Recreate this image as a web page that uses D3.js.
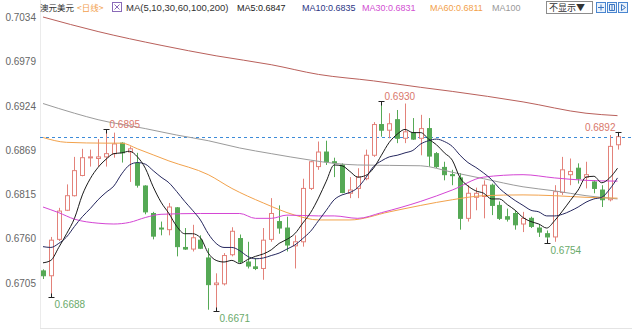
<!DOCTYPE html>
<html>
<head>
<meta charset="utf-8">
<script src="https://cdn.jsdelivr.net/npm/d3@7"></script>
<style>
  body { margin: 0; background: #fff; }
  svg { display: block; font-family: "Liberation Sans", Arial, "Noto Sans CJK SC", sans-serif; }
</style>
</head>
<body>
<svg id="chart" width="640" height="330"></svg>
<script>
// ── data (daily AUD/USD candles) ───────────────────────────────────────────
const opens = [
  0.6720, 0.6714, 0.6759, 0.6795, 0.6813, 0.6838, 0.6860, 0.6859, 0.6861, 0.6865,
  0.6878, 0.6867, 0.6853, 0.6825, 0.6791, 0.6773, 0.6771, 0.6798, 0.6749, 0.6747,
  0.6758, 0.6736, 0.6703, 0.6704, 0.6740, 0.6760, 0.6731, 0.6725, 0.6723, 0.6759,
  0.6781, 0.6773, 0.6751, 0.6756, 0.6822, 0.6849, 0.6867, 0.6855, 0.6851, 0.6816,
  0.6822, 0.6834, 0.6863, 0.6901, 0.6894, 0.6907, 0.6884, 0.6891, 0.6884, 0.6896,
  0.6865, 0.6848, 0.6839, 0.6835, 0.6785, 0.6811, 0.6812, 0.6826, 0.6801, 0.6787,
  0.6791, 0.6778, 0.6785, 0.6773, 0.6766, 0.6762, 0.6817, 0.6839, 0.6847, 0.6836,
  0.6830, 0.6820, 0.6808, 0.6876
];
const highs = [
  0.6722, 0.6762, 0.6798, 0.6827, 0.6861, 0.6871, 0.6870, 0.6883, 0.6895, 0.6891,
  0.6879, 0.6874, 0.6866, 0.6826, 0.6793, 0.6781, 0.6804, 0.6799, 0.6773, 0.6777,
  0.6764, 0.6748, 0.6717, 0.6742, 0.6774, 0.6765, 0.6756, 0.6736, 0.6773, 0.6810,
  0.6801, 0.6787, 0.6764, 0.6834, 0.6856, 0.6880, 0.6881, 0.6860, 0.6853, 0.6836,
  0.6847, 0.6870, 0.6904, 0.6930, 0.6915, 0.6919, 0.6927, 0.6909, 0.6913, 0.6909,
  0.6867, 0.6855, 0.6845, 0.6841, 0.6826, 0.6823, 0.6832, 0.6828, 0.6806, 0.6797,
  0.6795, 0.6793, 0.6787, 0.6777, 0.6770, 0.6826, 0.6861, 0.6859, 0.6853, 0.6855,
  0.6832, 0.6826, 0.6888, 0.6892
];
const lows = [
  0.6710, 0.6688, 0.6757, 0.6794, 0.6812, 0.6837, 0.6849, 0.6849, 0.6849, 0.6860,
  0.6854, 0.6830, 0.6823, 0.6790, 0.6759, 0.6764, 0.6764, 0.6738, 0.6746, 0.6744,
  0.6747, 0.6672, 0.6671, 0.6702, 0.6738, 0.6729, 0.6723, 0.6721, 0.6709, 0.6756,
  0.6766, 0.6744, 0.6723, 0.6750, 0.6820, 0.6845, 0.6851, 0.6836, 0.6816, 0.6810,
  0.6810, 0.6832, 0.6861, 0.6886, 0.6884, 0.6878, 0.6878, 0.6882, 0.6863, 0.6849,
  0.6847, 0.6832, 0.6826, 0.6771, 0.6781, 0.6795, 0.6785, 0.6789, 0.6783, 0.6781,
  0.6771, 0.6768, 0.6773, 0.6762, 0.6754, 0.6756, 0.6814, 0.6826, 0.6828, 0.6822,
  0.6816, 0.6799, 0.6806, 0.6870
];
const closes = [
  0.6714, 0.6758, 0.6794, 0.6813, 0.6844, 0.6860, 0.6861, 0.6861, 0.6865, 0.6877,
  0.6866, 0.6871, 0.6826, 0.6793, 0.6763, 0.6772, 0.6799, 0.6750, 0.6747, 0.6761,
  0.6748, 0.6703, 0.6705, 0.6739, 0.6769, 0.6731, 0.6726, 0.6723, 0.6758, 0.6791,
  0.6773, 0.6752, 0.6756, 0.6822, 0.6855, 0.6867, 0.6855, 0.6854, 0.6817, 0.6820,
  0.6836, 0.6863, 0.6901, 0.6894, 0.6902, 0.6884, 0.6892, 0.6883, 0.6896, 0.6862,
  0.6849, 0.6839, 0.6838, 0.6785, 0.6816, 0.6816, 0.6826, 0.6801, 0.6785, 0.6784,
  0.6777, 0.6785, 0.6775, 0.6768, 0.6762, 0.6818, 0.6845, 0.6843, 0.6834, 0.6839,
  0.6822, 0.6808, 0.6874, 0.6886
];

// short moving averages, one value per candle
const ma5 = [
  0.6730, 0.6733, 0.6749, 0.6766, 0.6785, 0.6814, 0.6834, 0.6848, 0.6858, 0.6865,
  0.6866, 0.6868, 0.6861, 0.6847, 0.6824, 0.6805, 0.6791, 0.6775, 0.6766, 0.6766,
  0.6761, 0.6742, 0.6733, 0.6731, 0.6733, 0.6729, 0.6734, 0.6738, 0.6741, 0.6746,
  0.6754, 0.6759, 0.6766, 0.6779, 0.6792, 0.6810, 0.6831, 0.6851, 0.6850, 0.6843,
  0.6836, 0.6838, 0.6847, 0.6863, 0.6879, 0.6889, 0.6895, 0.6891, 0.6891, 0.6883,
  0.6876, 0.6866, 0.6857, 0.6835, 0.6825, 0.6819, 0.6816, 0.6809, 0.6809, 0.6802,
  0.6795, 0.6786, 0.6781, 0.6778, 0.6773, 0.6782, 0.6794, 0.6807, 0.6820, 0.6836,
  0.6837, 0.6829, 0.6835, 0.6847
];
const ma10 = [
  0.6750, 0.6749, 0.6754, 0.6762, 0.6775, 0.6787, 0.6797, 0.6808, 0.6817, 0.6825,
  0.6840, 0.6851, 0.6854, 0.6852, 0.6844, 0.6836, 0.6829, 0.6818, 0.6806, 0.6795,
  0.6783, 0.6766, 0.6754, 0.6749, 0.6749, 0.6745, 0.6738, 0.6735, 0.6736, 0.6739,
  0.6742, 0.6747, 0.6752, 0.6760, 0.6769, 0.6782, 0.6795, 0.6808, 0.6814, 0.6817,
  0.6823, 0.6835, 0.6849, 0.6856, 0.6861, 0.6863, 0.6866, 0.6869, 0.6877, 0.6881,
  0.6883, 0.6880, 0.6874, 0.6863, 0.6854, 0.6848, 0.6841, 0.6833, 0.6822, 0.6814,
  0.6807, 0.6801, 0.6795, 0.6793, 0.6788, 0.6788, 0.6790, 0.6794, 0.6799, 0.6805,
  0.6809, 0.6811, 0.6821, 0.6835
];

// long moving averages, read at a few candle indices
const ma30Idx = [0, 2, 4, 7, 9, 11, 13, 15, 20, 25, 27, 29, 31, 35, 37, 40, 43, 48, 52, 56, 61, 65, 69, 73];
const ma30 = [0.6799, 0.6792, 0.6784, 0.6779, 0.6778, 0.6780, 0.6786, 0.6790, 0.6791, 0.6791, 0.6785, 0.6785,
  0.6789, 0.6788, 0.6788, 0.6785, 0.6792, 0.6806, 0.6820, 0.6836, 0.6839, 0.6835, 0.6832, 0.6831];
const ma60Idx = [0, 3, 8, 10, 12, 16, 21, 24, 28, 32, 35, 39, 44, 48, 52, 56, 61, 65, 69, 73];
const ma60 = [0.6885, 0.6879, 0.6878, 0.6878, 0.6871, 0.6856, 0.6839, 0.6822, 0.6804, 0.6789, 0.6783, 0.6783,
  0.6793, 0.6801, 0.6808, 0.6813, 0.6814, 0.6813, 0.6811, 0.6810];
const ma100Idx = [0, 4, 7, 13, 17, 21, 25, 29, 34, 37, 40, 48, 52, 56, 61, 65, 69, 73];
const ma100 = [0.6927, 0.6915, 0.6907, 0.6896, 0.6888, 0.6881, 0.6872, 0.6865, 0.6857, 0.6853, 0.6851, 0.6850,
  0.6842, 0.6834, 0.6824, 0.6819, 0.6813, 0.6809];
const ma200Idx = [0, 7, 15, 22, 29, 35, 42, 48, 52, 61, 69, 73];
const ma200 = [0.7034, 0.7016, 0.6999, 0.6986, 0.6975, 0.6963, 0.6955, 0.6947, 0.6942, 0.6929, 0.6915, 0.6912];

const yTicks = [0.7034, 0.6979, 0.6924, 0.6869, 0.6815, 0.6760, 0.6705];
const highMarks = [8, 43, 73];   // candles whose high is labelled
const lowMarks = [1, 22, 64];    // candles whose low is labelled

// ──────────────────────────────────────────────────────────────────────────────

const UP = '#e3827a';
const DOWN = '#55a955';
const fmt = d3.format('.4f');

const svg = d3.select('#chart');
const plot = { left: 40, right: 632, bottom: 328 };

const x = d3.scalePoint().domain(d3.range(closes.length)).range([43, 617.5]);
const y = d3.scaleLinear().domain([0.6650, 0.7034]).range([327.5, 17]);
const px = v => Math.round(v) + 0.5;

// frame
svg.append('line')
  .attr('x1', plot.left + 0.5).attr('x2', plot.left + 0.5)
  .attr('y1', 0).attr('y2', plot.bottom)
  .attr('stroke', '#ebebeb');
svg.append('line')
  .attr('x1', plot.left).attr('x2', plot.right)
  .attr('y1', plot.bottom + 0.5).attr('y2', plot.bottom + 0.5)
  .attr('stroke', '#e4e4e4');

// y axis labels
const yAxis = svg.append('g')
  .attr('transform', `translate(${plot.left},0)`)
  .call(d3.axisLeft(y).tickValues(yTicks).tickFormat(fmt).tickSize(0).tickPadding(4));
yAxis.select('.domain').remove();
yAxis.selectAll('text')
  .attr('fill', '#666')
  .style('font-size', '10px');

// last close reference line
svg.append('line')
  .attr('x1', plot.left).attr('x2', plot.right)
  .attr('y1', px(y(closes[closes.length - 1]))).attr('y2', px(y(closes[closes.length - 1])))
  .attr('stroke', '#3d8bd8')
  .attr('stroke-dasharray', '3,3');

// candles
const idx = d3.range(closes.length);
const isUp = i => closes[i] >= opens[i];

const candles = svg.append('g');
candles.selectAll('line.wick')
  .data(idx)
  .join('line')
  .attr('class', 'wick')
  .attr('x1', i => px(x(i))).attr('x2', i => px(x(i)))
  .attr('y1', i => y(highs[i])).attr('y2', i => y(lows[i]))
  .attr('stroke', i => isUp(i) ? UP : DOWN);

candles.selectAll('rect.body')
  .data(idx)
  .join('rect')
  .attr('class', 'body')
  .attr('x', i => Math.round(x(i)) - 2 + 0.5)
  .attr('width', 4)
  .attr('y', i => y(Math.max(opens[i], closes[i])))
  .attr('height', i => Math.max(1, Math.abs(y(opens[i]) - y(closes[i]))))
  .attr('fill', i => isUp(i) ? '#fff' : DOWN)
  .attr('stroke', i => isUp(i) ? UP : DOWN);

// moving averages
const line = d3.line().x(d => x(d[0])).y(d => y(d[1])).curve(d3.curveMonotoneX);
const series = [
  { pts: ma200Idx.map((i, k) => [i, ma200[k]]), color: '#b9605b' },
  { pts: ma100Idx.map((i, k) => [i, ma100[k]]), color: '#9b9b9b' },
  { pts: ma60Idx.map((i, k) => [i, ma60[k]]), color: '#f2a24c' },
  { pts: ma30Idx.map((i, k) => [i, ma30[k]]), color: '#d445d4' },
  { pts: idx.map(i => [i, ma10[i]]), color: '#25275e' },
  { pts: idx.map(i => [i, ma5[i]]), color: '#1b1b1b' },
];
svg.append('g')
  .selectAll('path')
  .data(series)
  .join('path')
  .attr('d', d => line(d.pts))
  .attr('fill', 'none')
  .attr('stroke', d => d.color)
  .attr('stroke-width', 1);

// extreme markers
const marks = svg.append('g').style('font-size', '10px');
highMarks.forEach(i => {
  const cx = px(x(i)), cy = Math.round(y(highs[i])) + 0.5;
  marks.append('line').attr('x1', cx - 3).attr('x2', cx + 3).attr('y1', cy).attr('y2', cy).attr('stroke', '#222');
  marks.append('line').attr('x1', cx).attr('x2', cx).attr('y1', cy).attr('y2', cy + 4).attr('stroke', '#222');
  const right = x(i) > 560;
  marks.append('text')
    .attr('x', right ? cx - 3 : cx + 3)
    .attr('y', cy - 2)
    .attr('text-anchor', right ? 'end' : 'start')
    .attr('fill', '#d9786c')
    .text(fmt(highs[i]));
});
lowMarks.forEach(i => {
  const cx = px(x(i)), cy = Math.round(y(lows[i])) + 0.5;
  marks.append('line').attr('x1', cx - 3).attr('x2', cx + 3).attr('y1', cy).attr('y2', cy).attr('stroke', '#222');
  marks.append('line').attr('x1', cx).attr('x2', cx).attr('y1', cy - 4).attr('y2', cy).attr('stroke', '#222');
  marks.append('text')
    .attr('x', cx + 3)
    .attr('y', cy + 10)
    .attr('fill', '#6aaa6a')
    .text(fmt(lows[i]));
});

// header legend
const head = svg.append('g').style('font-size', '9px');
head.append('text').attr('x', 40).attr('y', 11).attr('fill', '#333')
  .style('font-family', '"Noto Sans CJK SC", sans-serif').style('font-size', '8.5px').text('澳元美元');
head.append('text').attr('x', 77).attr('y', 11).attr('fill', '#f2a04e')
  .style('font-family', '"Noto Sans CJK SC", sans-serif').style('font-size', '8.5px').text('<日线>');

const icon = head.append('g').attr('transform', 'translate(112.5,2.5)');
icon.append('rect').attr('width', 9).attr('height', 9).attr('fill', '#fff').attr('stroke', '#8a6ab8');
icon.append('path').attr('d', 'M2,2L7,7M7,2L2,7').attr('stroke', '#8a6ab8').attr('fill', 'none');

const legend = [
  { text: 'MA(5,10,30,60,100,200)', x: 126, color: '#333' },
  { text: 'MA5:0.6847', x: 237, color: '#222' },
  { text: 'MA10:0.6835', x: 302, color: '#2c3684' },
  { text: 'MA30:0.6831', x: 362, color: '#d24fd2' },
  { text: 'MA60:0.6811', x: 430, color: '#f2a04a' },
  { text: 'MA100', x: 492, color: '#999' },
];
head.selectAll('text.lg')
  .data(legend)
  .join('text')
  .attr('class', 'lg')
  .attr('x', d => d.x).attr('y', 11)
  .attr('fill', d => d.color)
  .style('font-size', d => d.x === 126 ? '9.5px' : '9px')
  .text(d => d.text);

// controls on the right
head.append('rect').attr('x', 546.5).attr('y', 1.5).attr('width', 46).attr('height', 12)
  .attr('fill', '#fff').attr('stroke', '#8c8c8c');
head.append('text').attr('x', 549).attr('y', 11).attr('fill', '#333')
  .style('font-family', '"Noto Sans CJK SC", sans-serif').style('font-size', '9px').text('不显示▼');

[596, 607, 618].forEach((bx, k) => {
  const b = head.append('g').attr('transform', `translate(${bx + 0.5},2.5)`);
  b.append('rect').attr('width', 9).attr('height', 10).attr('fill', '#eaf2fb').attr('stroke', '#4a86d0');
  const glyph = ['M4.5,2V8M1.5,5H7.5', 'M2,2H7V8H2ZM4.5,2V8', 'M3,2L7,5L3,8Z'][k];
  b.append('path').attr('d', glyph).attr('fill', 'none').attr('stroke', '#3a74c0');
});
</script>
</body>
</html>
